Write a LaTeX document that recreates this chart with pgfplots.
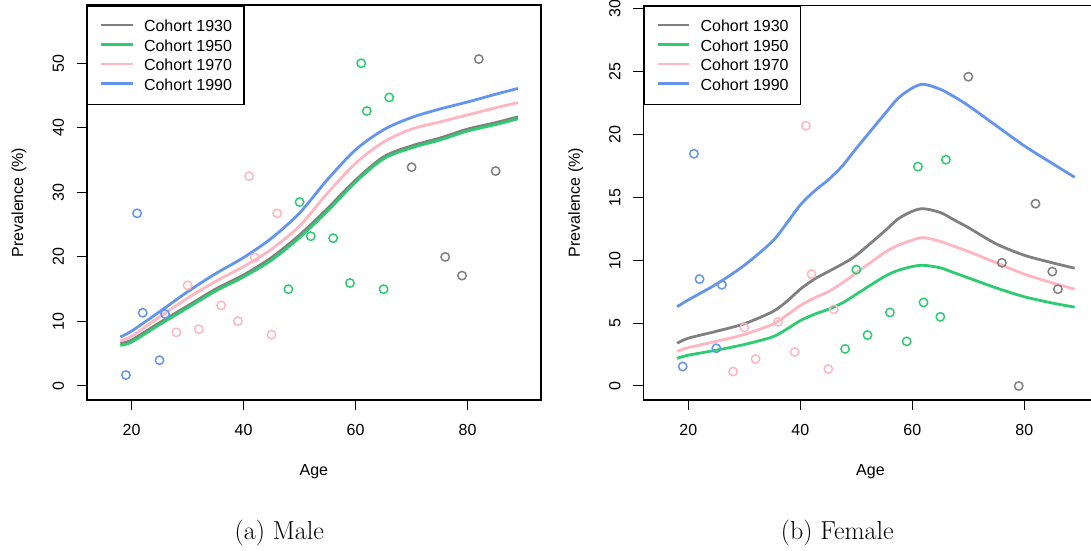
\documentclass[border=0pt]{standalone}
\usepackage{fontspec}
\usepackage{pgfplots}
\usepackage{pgfplotstable}
\pgfplotsset{compat=1.18}
\newfontfamily\arialfont{Liberation Sans}
\definecolor{cgray}{RGB}{128,128,128}
\definecolor{cgreen}{RGB}{46,204,113}
\definecolor{cpink}{RGB}{255,182,193}
\definecolor{cblue}{RGB}{100,149,237}

% Male curves
\pgfplotstableread{
x blue pink gray green
18 7.6 7.0 6.6 6.3
20 8.5 7.7 7.1 6.8
25 11.5 10.7 9.8 9.5
30 14.6 13.6 12.4 12.1
35 17.4 16.2 15.0 14.7
40 19.9 18.5 17.2 16.9
45 22.9 21.2 19.9 19.5
50 26.8 24.8 23.4 23.0
55 32.0 29.9 27.5 27.1
60 36.6 34.5 31.9 31.6
65 39.7 37.8 35.5 35.2
70 41.6 39.8 37.2 36.9
75 42.9 40.9 38.4 38.1
80 44.0 42.0 39.8 39.5
85 45.2 43.1 40.8 40.5
89 46.1 43.9 41.7 41.4
}\malecurves

% Female curves
\pgfplotstableread{
x blue pink gray green
18 6.3 2.75 3.4 2.2
20 6.85 3.05 3.8 2.45
25 8.1 3.55 4.35 2.85
30 9.6 4.1 4.95 3.3
35 11.5 4.9 5.9 3.9
37.5 12.9 5.6 6.7 4.5
40 14.4 6.4 7.7 5.2
42.5 15.5 7.0 8.5 5.7
45 16.4 7.5 9.1 6.1
47.5 17.5 8.2 9.7 6.6
50 18.9 9.0 10.4 7.3
55 21.6 10.6 12.3 8.7
57.5 22.9 11.2 13.3 9.2
60 23.7 11.6 13.9 9.5
62 24.0 11.8 14.1 9.6
65 23.6 11.5 13.8 9.4
67.5 23.0 11.1 13.2 9.0
70 22.3 10.7 12.6 8.6
75 20.7 9.8 11.3 7.8
80 19.1 8.9 10.4 7.1
85 17.7 8.2 9.8 6.6
89 16.6 7.7 9.37 6.27
}\femalecurves

\pgfplotsset{
  rplot/.style={
    scale only axis, width=454.3pt, height=394.7pt,
    axis line style={line width=1.6pt},
    tick align=outside, major tick length=10pt,
    tick pos=left,
    tick style={line width=1pt, black},
    xtick={20,40,60,80}, xticklabels={20,40,60,80},
    /pgf/number format/assume math mode=true,
    tick label style={font=\arialfont\fontsize{16}{16}\selectfont},
    xticklabel style={anchor=north, inner sep=13.7pt},
    yticklabel style={rotate=90, anchor=south, inner sep=12.5pt},
    label style={font=\arialfont\fontsize{16}{16}\selectfont},
    xlabel style={at={(axis description cs:0.5,-0.1817)}, anchor=center},
    ylabel style={at={(axis description cs:-0.149,0.5)}, anchor=center},
    xlabel={Age}, ylabel={Prevalence (\%)},
    legend style={at={(0,1)}, anchor=north west, draw=black, line width=1.6pt, fill=white,
      font=\arialfont\fontsize{16}{16}\selectfont, inner xsep=12pt, inner ysep=14.1pt,
      row sep=8pt, column sep=10pt,
      nodes={inner sep=0pt, text height=11.5pt, text depth=0pt}},
    legend cell align=left,
    legend image code/.code={\draw[##1] (0pt,1pt) -- (31.7pt,1pt);},
  },
  cline/.style={line width=2.8pt, smooth, no markers},
  cpt/.style={only marks, mark=o, mark size=4.2pt, mark options={line width=1.5pt}, forget plot},
}

\begin{document}
\begin{tikzpicture}
\useasboundingbox (0,0) rectangle (1091pt,550pt);
\clip (0,0) rectangle (1091pt,550pt);

% ---------- Male ----------
\begin{axis}[rplot, at={(86.7pt,150pt)}, anchor=south west,
  xmin=12.0, xmax=93.1, ymin=-2.17, ymax=58.98,
  ytick={0,10,20,30,40,50}, yticklabels={0,10,20,30,40,50}]
\addplot[cpt, cblue] coordinates {(19,1.7) (21,26.75) (22,11.35) (25,4.0) (26,11.15)};
\addplot[cpt, cpink] coordinates {(28,8.3) (30,15.6) (32,8.8) (36,12.5) (39,10.05) (41,32.5) (42,19.9) (45,7.95) (46,26.75)};
\addplot[cpt, cgreen] coordinates {(48,15.0) (50,28.5) (52,23.2) (56,22.9) (59,15.95) (61,50.0) (62,42.6) (65,15.0) (66,44.7)};
\addplot[cpt, cgray] coordinates {(70,33.9) (76,20.0) (79,17.1) (82,50.65) (85,33.3)};
\addplot[cline, cgray] table[x=x, y=gray] {\malecurves};
\addlegendentry{Cohort 1930}
\addplot[cline, cgreen] table[x=x, y=green] {\malecurves};
\addlegendentry{Cohort 1950}
\addplot[cline, cpink] table[x=x, y=pink] {\malecurves};
\addlegendentry{Cohort 1970}
\addplot[cline, cblue] table[x=x, y=blue] {\malecurves};
\addlegendentry{Cohort 1990}
\end{axis}

% ---------- Female ----------
\begin{axis}[rplot, at={(643.3pt,150pt)}, anchor=south west,
  xmin=11.96, xmax=93.09, ymin=-1.115, ymax=30.28,
  ytick={0,5,10,15,20,25,30}, yticklabels={0,5,10,15,20,25,30}]
\addplot[cpt, cblue] coordinates {(19,1.55) (21,18.47) (22,8.5) (25,3.0) (26,8.05)};
\addplot[cpt, cpink] coordinates {(28,1.15) (30,4.65) (32,2.15) (36,5.1) (39,2.7) (41,20.7) (42,8.9) (45,1.35) (46,6.1)};
\addplot[cpt, cgreen] coordinates {(48,2.95) (50,9.25) (52,4.05) (56,5.85) (59,3.55) (61,17.45) (62,6.65) (65,5.5) (66,18.0)};
\addplot[cpt, cgray] coordinates {(70,24.6) (76,9.8) (79,0.0) (82,14.5) (85,9.1) (86,7.7)};
\addplot[cline, cgray] table[x=x, y=gray] {\femalecurves};
\addlegendentry{Cohort 1930}
\addplot[cline, cgreen] table[x=x, y=green] {\femalecurves};
\addlegendentry{Cohort 1950}
\addplot[cline, cpink] table[x=x, y=pink] {\femalecurves};
\addlegendentry{Cohort 1970}
\addplot[cline, cblue] table[x=x, y=blue] {\femalecurves};
\addlegendentry{Cohort 1990}
\end{axis}

\node[anchor=base, inner sep=0pt] at (279.3pt,11pt) {\fontsize{26}{30}\selectfont (a)\ Male};
\node[anchor=base, inner sep=0pt] at (837.3pt,11pt) {\fontsize{26}{30}\selectfont (b)\ Female};
\end{tikzpicture}
\end{document}
